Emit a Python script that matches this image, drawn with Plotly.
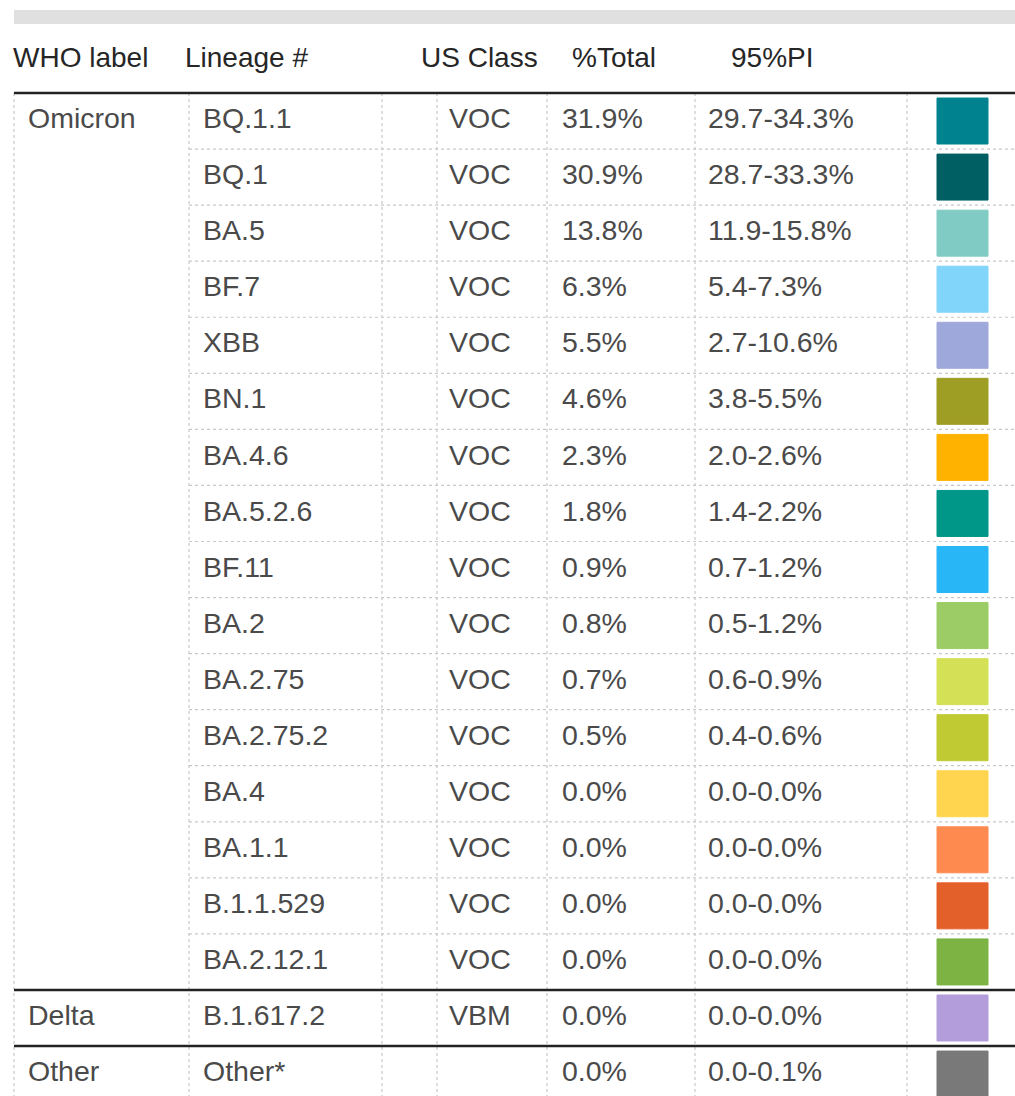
import plotly.graph_objects as go

# ---- data ----
who_groups = ["Omicron"] * 16 + ["Delta", "Other"]
lineages = ["BQ.1.1", "BQ.1", "BA.5", "BF.7", "XBB", "BN.1", "BA.4.6", "BA.5.2.6",
            "BF.11", "BA.2", "BA.2.75", "BA.2.75.2", "BA.4", "BA.1.1", "B.1.1.529",
            "BA.2.12.1", "B.1.617.2", "Other*"]
us_class = ["VOC", "VOC", "VOC", "VOC", "VOC", "VOC", "VOC", "VOC", "VOC", "VOC",
            "VOC", "VOC", "VOC", "VOC", "VOC", "VOC", "VBM", ""]
pct_total = [31.9, 30.9, 13.8, 6.3, 5.5, 4.6, 2.3, 1.8, 0.9, 0.8, 0.7, 0.5,
             0.0, 0.0, 0.0, 0.0, 0.0, 0.0]
pi_low = [29.7, 28.7, 11.9, 5.4, 2.7, 3.8, 2.0, 1.4, 0.7, 0.5, 0.6, 0.4,
          0.0, 0.0, 0.0, 0.0, 0.0, 0.0]
pi_high = [34.3, 33.3, 15.8, 7.3, 10.6, 5.5, 2.6, 2.2, 1.2, 1.2, 0.9, 0.6,
           0.0, 0.0, 0.0, 0.0, 0.0, 0.1]
colors = ["#00838F", "#005F63", "#80CBC4", "#81D4FA", "#9FA8DA", "#9E9D24",
          "#FFB300", "#009688", "#29B6F6", "#9CCC65", "#D4E157", "#C0CA33",
          "#FFD54F", "#FF8A50", "#E4602A", "#7CB342", "#B39DDB", "#797979"]
headers = ["WHO label", "Lineage #", "US Class", "%Total", "95%PI"]

# ---- layout constants (page pixel coordinates) ----
W, H = 1015, 1096
TABLE_TOP = 93
ROW_H = 56.06
LEFT = 14
col_lines = [14, 189, 382, 437, 547, 695, 907]
text_x = [28, 203, 449, 562, 708]
header_x = [13, 185, 421, 572, 731]
HEADER_Y = 60
SW_X0, SW_X1, SW_H = 937, 988, 46
FONT = "Liberation Sans, Arial, sans-serif"
BODY_COLOR = "#4a4a4a"
HEAD_COLOR = "#262626"
FS = 28.5
HFS = 28

n = len(lineages)
row_y = [TABLE_TOP + ROW_H * (i + 0.5) for i in range(n)]
row_top = [TABLE_TOP + ROW_H * i for i in range(n)]
bottom = TABLE_TOP + ROW_H * n
RIGHT = W + 20

who_text = []
for i, g in enumerate(who_groups):
    who_text.append(g if i == 0 or who_groups[i - 1] != g else "")

fig = go.Figure()

columns = [
    who_text,
    lineages,
    us_class,
    [f"{v:.1f}%" for v in pct_total],
    [f"{a:.1f}-{b:.1f}%" for a, b in zip(pi_low, pi_high)],
]
for cx, vals in zip(text_x, columns):
    fig.add_trace(go.Scatter(
        x=[cx] * n, y=row_y, mode="text", text=vals,
        textposition="middle right",
        textfont=dict(family=FONT, size=FS, color=BODY_COLOR),
        hoverinfo="skip", showlegend=False, cliponaxis=False))

fig.add_trace(go.Scatter(
    x=header_x, y=[HEADER_Y] * len(headers), mode="text", text=headers,
    textposition="middle right",
    textfont=dict(family=FONT, size=HFS, color=HEAD_COLOR),
    hoverinfo="skip", showlegend=False, cliponaxis=False))

shapes = []
shapes.append(dict(type="rect", x0=LEFT, x1=RIGHT, y0=10, y1=24,
                   fillcolor="#e0e0e0", line=dict(width=0), layer="below"))

for cx in col_lines:
    shapes.append(dict(type="line", x0=cx, x1=cx, y0=TABLE_TOP, y1=bottom + 20,
                       line=dict(color="#c8c8c8", width=1.2, dash="dot"), layer="below"))

for i in range(1, n):
    if who_groups[i] != who_groups[i - 1]:
        shapes.append(dict(type="line", x0=LEFT, x1=RIGHT, y0=row_top[i], y1=row_top[i],
                           line=dict(color="#222222", width=2.5)))
    else:
        shapes.append(dict(type="line", x0=col_lines[1], x1=RIGHT, y0=row_top[i], y1=row_top[i],
                           line=dict(color="#c8c8c8", width=1.2, dash="dot"), layer="below"))

shapes.append(dict(type="line", x0=LEFT, x1=RIGHT, y0=TABLE_TOP, y1=TABLE_TOP,
                   line=dict(color="#222222", width=2.5)))

for i, c in enumerate(colors):
    shapes.append(dict(type="rect", x0=SW_X0, x1=SW_X1,
                       y0=row_y[i] - SW_H / 2, y1=row_y[i] + SW_H / 2,
                       fillcolor=c, line=dict(color=c, width=1)))

fig.update_layout(
    width=W, height=H,
    margin=dict(l=0, r=0, t=0, b=0),
    paper_bgcolor="white", plot_bgcolor="white",
    xaxis=dict(range=[0, W], visible=False, fixedrange=True),
    yaxis=dict(range=[H, 0], visible=False, fixedrange=True),
    shapes=shapes,
)

fig.write_html("out.html", config={"displayModeBar": False, "staticPlot": True})

# remove default page margin so the figure fills the window exactly
with open("out.html", "r", encoding="utf-8") as f:
    html = f.read()
html = html.replace("<body>", '<body style="margin:0;padding:0;overflow:hidden">', 1)
with open("out.html", "w", encoding="utf-8") as f:
    f.write(html)
